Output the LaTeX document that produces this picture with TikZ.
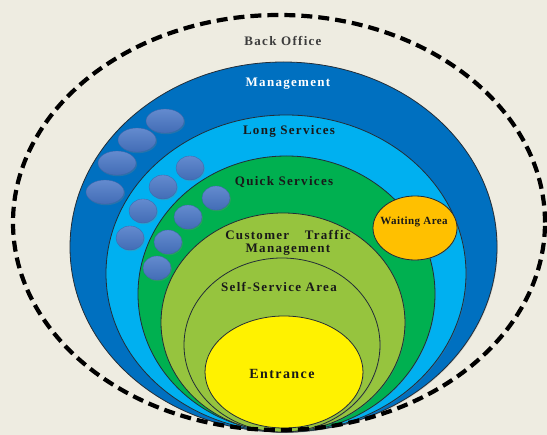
\documentclass[tikz,border=0pt]{standalone}
\usepackage{fontspec}
\setmainfont{Liberation Serif}
\newfontfamily\ringfont[LetterSpace=10]{Liberation Serif}
\newfontfamily\waitfont[LetterSpace=4]{Liberation Serif}
\usetikzlibrary{shapes.geometric, shadows}
\definecolor{bgtan}{RGB}{238,236,225}
\definecolor{mgmtblue}{RGB}{0,112,192}
\definecolor{longblue}{RGB}{0,176,240}
\definecolor{quickgreen}{RGB}{0,176,80}
\definecolor{limegreen}{RGB}{150,196,62}
\definecolor{waitorange}{RGB}{255,192,0}
\definecolor{blobblue}{RGB}{72,118,198}
\definecolor{edgegray}{RGB}{35,45,55}
\definecolor{textgray}{RGB}{60,60,60}

\begin{document}
\begin{tikzpicture}[x=1pt,y=-1pt]
\tikzstyle{ring} = [ellipse,draw=edgegray,line width=0.8pt,inner sep=0pt,drop shadow={opacity=0.25,shadow xshift=0.8pt,shadow yshift=-0.8pt}]
\tikzstyle{blob} = [ellipse,draw=blobblue!85!black,line width=0.3pt,inner sep=0pt,top color=blobblue!85!white,bottom color=blobblue!92!black,drop shadow={opacity=0.3,shadow xshift=1pt,shadow yshift=-1.2pt}]
\tikzstyle{lbl} = [font=\ringfont\bfseries\fontsize{13}{14}\selectfont,text=black!90,inner sep=0pt]
\fill[bgtan] (0,0) rectangle (547,435);
\useasboundingbox (0,0) rectangle (547,435);
% rings
\node[ring,fill=mgmtblue,minimum width=427pt,minimum height=370pt] (r1) at (283.5,247) {};
\node[ring,fill=longblue,minimum width=360pt,minimum height=317pt] (r2) at (286,273.5) {};
\node[ring,fill=quickgreen,minimum width=297pt,minimum height=276pt] (r3) at (286.5,294) {};
\node[ring,fill=limegreen,minimum width=244pt,minimum height=219pt] (r4) at (283,322.5) {};
\node[ring,fill=limegreen,minimum width=196pt,minimum height=174pt] (r5) at (282,345) {};
\node[ring,fill=yellow,minimum width=158pt,minimum height=112pt] (r6) at (284,372) {};
\node[ring,fill=waitorange,minimum width=84pt,minimum height=64pt] (w1) at (415,228) {};
\node[ellipse,draw=black,line width=4.2pt,dash pattern=on 11pt off 6pt,inner sep=0pt,minimum width=532pt,minimum height=415pt] (d0) at (279,222.5) {};
% waiting people
\node[blob,minimum width=38pt,minimum height=24pt] (b1) at (165,121) {};
\node[blob,minimum width=38pt,minimum height=24pt] (b2) at (137,140) {};
\node[blob,minimum width=38pt,minimum height=24pt] (b3) at (117,163) {};
\node[blob,minimum width=38pt,minimum height=24pt] (b4) at (105,192) {};
\node[blob,minimum width=28pt,minimum height=24pt] (b5) at (190,168) {};
\node[blob,minimum width=28pt,minimum height=24pt] (b6) at (163,187) {};
\node[blob,minimum width=28pt,minimum height=24pt] (b7) at (143,211) {};
\node[blob,minimum width=28pt,minimum height=24pt] (b8) at (130,238) {};
\node[blob,minimum width=28pt,minimum height=24pt] (b9) at (216,198) {};
\node[blob,minimum width=28pt,minimum height=24pt] (b10) at (188,217) {};
\node[blob,minimum width=28pt,minimum height=24pt] (b11) at (168,242) {};
\node[blob,minimum width=28pt,minimum height=24pt] (b12) at (157,268) {};
% labels
\node[lbl,text=textgray] (t0) at (283,41) {Back Office};
\node[lbl,text=white] (t1) at (288,84) {Management};
\node[lbl] (t2) at (289,131) {Long Services};
\node[lbl] (t3) at (284,182) {Quick Services};
\node[lbl,align=center] (t4) at (288,243) {Customer\hspace{1.2em}Traffic\\[-1pt]Management};
\node[lbl] (t5) at (279,287) {Self-Service Area};
\node[lbl,font=\ringfont\bfseries\fontsize{14}{15}\selectfont] (t6) at (282,374) {Entrance};
\node[lbl,font=\waitfont\bfseries\fontsize{11}{12}\selectfont] (t7) at (414,222) {Waiting Area};
\end{tikzpicture}
\end{document}
